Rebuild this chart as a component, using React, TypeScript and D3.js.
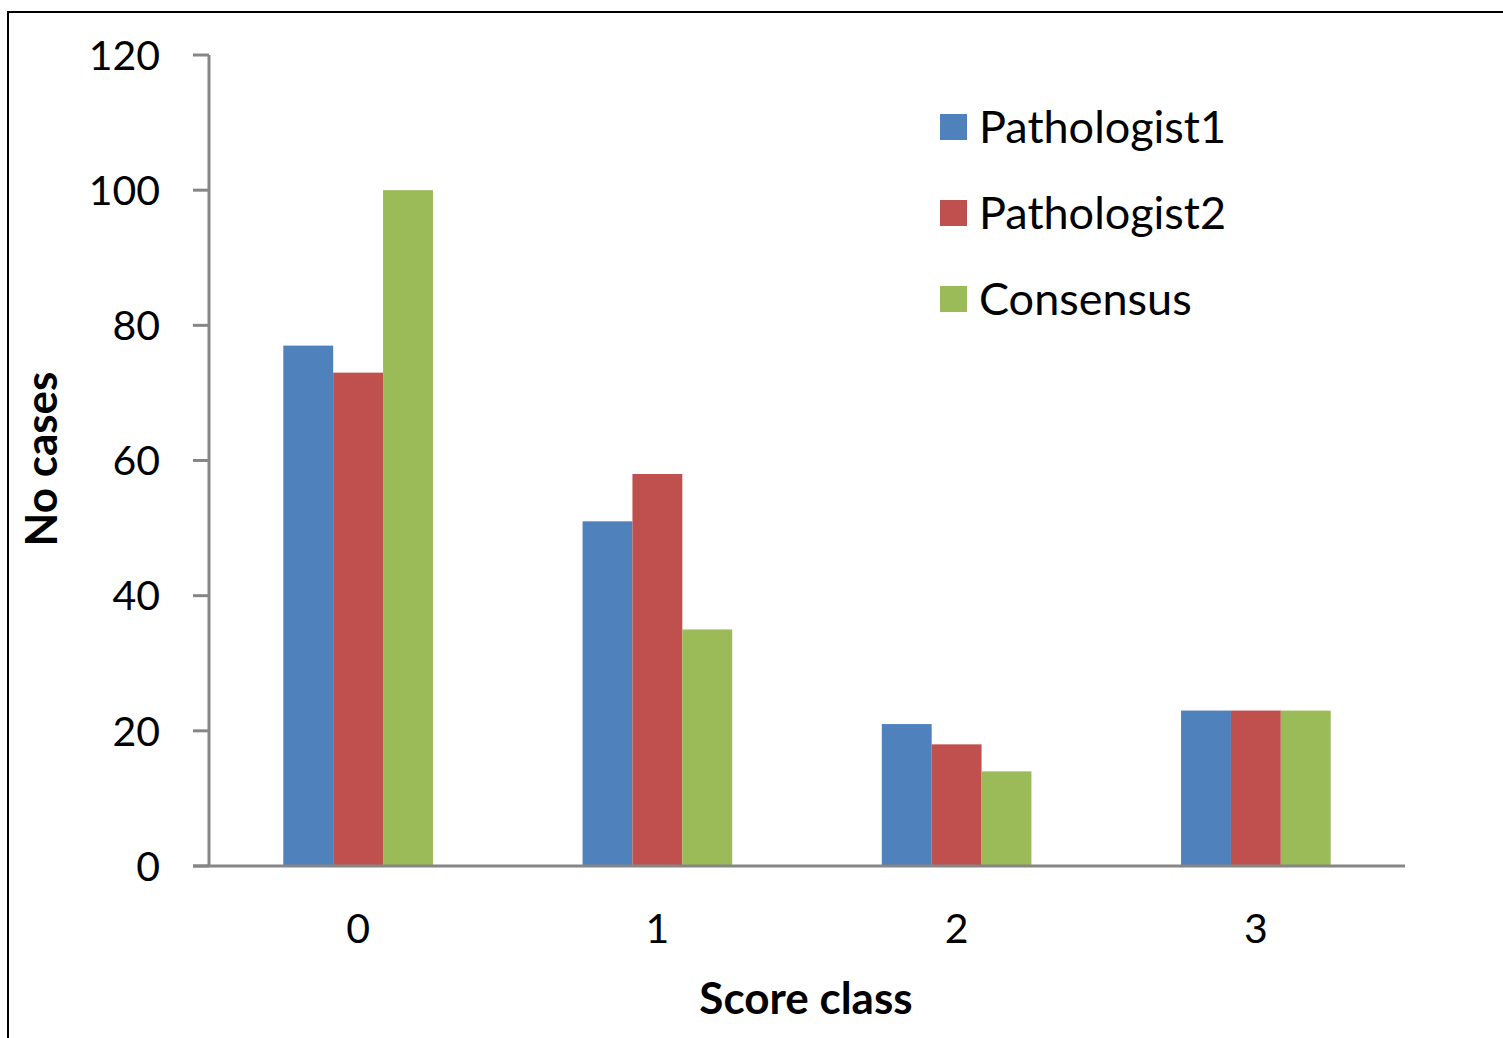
import React from "react";
import * as d3 from "d3";

const categories = ["0", "1", "2", "3"];
const seriesNames = ["Pathologist1", "Pathologist2", "Consensus"];
const pathologist1 = [77, 51, 21, 23];
const pathologist2 = [73, 58, 18, 23];
const consensus = [100, 35, 14, 23];
const yTicks = [0, 20, 40, 60, 80, 100, 120];
const colors = ["#4f81bd", "#c0504d", "#9bbb59"];

const W = 1503;
const H = 1038;
const FONT = "Lato, 'Open Sans', sans-serif";

export default function App() {
  const series = [pathologist1, pathologist2, consensus];
  const x = d3.scaleBand<string>().domain(categories).range([208.5, 1405.5]).paddingInner(0.5).paddingOuter(0.25);
  const xs = d3.scaleBand<string>().domain(seriesNames).range([0, x.bandwidth()]);
  const y = d3.scaleLinear().domain([0, 120]).range([866, 55]);
  const axisColor = "#868686";

  return (
    <svg width={W} height={H} style={{ position: "absolute", left: 0, top: 0, background: "#fff" }} fontFamily={FONT}>
      <rect x={8} y={12} width={W + 10} height={H + 10} fill="#fff" stroke="#000" strokeWidth={2} />
      {/* bars */}
      {categories.map((c, i) =>
        series.map((s, j) => (
          <rect
            key={c + j}
            x={(x(c) as number) + (xs(seriesNames[j]) as number)}
            y={y(s[i])}
            width={xs.bandwidth()}
            height={y(0) - y(s[i])}
            fill={colors[j]}
          />
        ))
      )}
      {/* y axis */}
      <line x1={209} x2={209} y1={y(120)} y2={y(0)} stroke={axisColor} strokeWidth={3} />
      {yTicks.map((t) => (
        <g key={t}>
          <line x1={193} x2={209} y1={y(t)} y2={y(t)} stroke={axisColor} strokeWidth={3} />
          <text x={160} y={y(t)} dy="0.36em" textAnchor="end" fontSize={41} fill="#000">
            {t}
          </text>
        </g>
      ))}
      {/* x axis */}
      <line x1={193} x2={1405} y1={y(0)} y2={y(0)} stroke={axisColor} strokeWidth={3} />
      {categories.map((c) => (
        <text key={c} x={(x(c) as number) + x.bandwidth() / 2} y={943} textAnchor="middle" fontSize={41} fill="#000">
          {c}
        </text>
      ))}
      <text x={806} y={1014} textAnchor="middle" fontSize={44} fontWeight="bold" fill="#000">
        Score class
      </text>
      <text
        transform={`translate(57, 459) rotate(-90)`}
        textAnchor="middle"
        fontSize={44}
        fontWeight="bold"
        fill="#000"
      >
        No cases
      </text>
      {/* legend */}
      {seriesNames.map((n, j) => (
        <g key={n} transform={`translate(940, ${114 + j * 86})`}>
          <rect x={0} y={0} width={27} height={26} fill={colors[j]} />
          <text x={39} y={13} dy="0.36em" fontSize={45} fill="#000">
            {n}
          </text>
        </g>
      ))}
    </svg>
  );
}
